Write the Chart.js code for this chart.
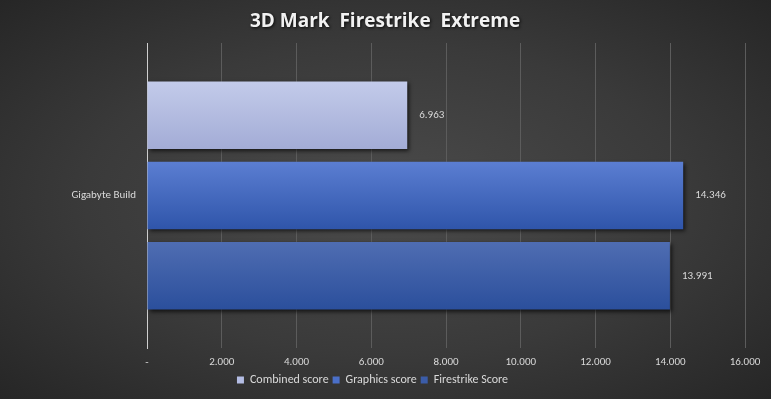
<!DOCTYPE html>
<html>
<head>
<meta charset="utf-8">
<script src="https://cdn.jsdelivr.net/npm/chart.js@4"></script>
<style>
  html, body { margin: 0; padding: 0; }
  #wrap {
    width: 771px; height: 399px;
    background: radial-gradient(ellipse at 50% 50%, #4b4b4b 0%, #3a3a3a 55%, #262626 100%);
  }
</style>
</head>
<body>
<div id="wrap"><canvas id="chart" width="771" height="399"></canvas></div>
<script>
const title = '3D Mark  Firestrike  Extreme';
const categories = ['Gigabyte Build'];
const seriesNames = ['Combined score', 'Graphics score', 'Firestrike Score'];
const combinedScore = [6963];
const graphicsScore = [14346];
const firestrikeScore = [13991];
const xTicks = [0, 2000, 4000, 6000, 8000, 10000, 12000, 14000, 16000];

const FONT = "'Carlito', 'Liberation Sans Narrow', 'Liberation Sans', sans-serif";

// top / bottom colours of each bar's gradient
const barColors = [
  ['#c3cbea', '#a3acd6'],
  ['#5b7ed2', '#2f55aa'],
  ['#4f6db2', '#2b4f9c']
];

const fmt = (v) => (v === 0 ? '-' : String(v).replace(/\B(?=(\d{3})+(?!\d))/g, '.'));

const barStyle = {
  id: 'barStyle',
  beforeDatasetDraw(chart, args) {
    const ctx = chart.ctx;
    const meta = args.meta;
    meta.data.forEach((el) => {
      const top = el.y - el.height / 2;
      const g = ctx.createLinearGradient(0, top, 0, top + el.height);
      g.addColorStop(0, barColors[args.index][0]);
      g.addColorStop(1, barColors[args.index][1]);
      el.options = Object.assign({}, el.options, { backgroundColor: g });
    });
    ctx.save();
    ctx.shadowColor = 'rgba(0,0,0,0.65)';
    ctx.shadowBlur = 4;
    ctx.shadowOffsetX = 2;
    ctx.shadowOffsetY = 2;
  },
  afterDatasetDraw(chart) {
    chart.ctx.restore();
  }
};

const valueLabels = {
  id: 'valueLabels',
  afterDatasetsDraw(chart) {
    const ctx = chart.ctx;
    ctx.save();
    ctx.font = '11px ' + FONT;
    ctx.fillStyle = '#d9d9d9';
    ctx.textBaseline = 'middle';
    chart.data.datasets.forEach((ds, i) => {
      chart.getDatasetMeta(i).data.forEach((el, j) => {
        ctx.fillText(fmt(ds.data[j]), el.x + 12, el.y);
      });
    });
    ctx.restore();
  }
};

const titleText = {
  id: 'titleText',
  afterDraw(chart) {
    const ctx = chart.ctx;
    ctx.save();
    ctx.font = "bold 19px 'Open Sans', 'DejaVu Sans', sans-serif";
    ctx.fillStyle = '#f2f2f2';
    ctx.textAlign = 'center';
    ctx.textBaseline = 'middle';
    ctx.shadowColor = 'rgba(0,0,0,0.8)';
    ctx.shadowBlur = 3;
    ctx.shadowOffsetX = 1;
    ctx.shadowOffsetY = 1;
    ctx.fillText(title, 385, 22);
    ctx.restore();
  }
};

new Chart(document.getElementById('chart'), {
  type: 'bar',
  data: {
    labels: categories,
    datasets: [
      { label: seriesNames[0], data: combinedScore, backgroundColor: '#b4bde4' },
      { label: seriesNames[1], data: graphicsScore, backgroundColor: '#4a6fc8' },
      { label: seriesNames[2], data: firestrikeScore, backgroundColor: '#3b5ca8' }
    ]
  },
  options: {
    indexAxis: 'y',
    responsive: false,
    animation: false,
    categoryPercentage: 0.79,
    barPercentage: 0.84,
    layout: { padding: { top: 43, right: 26, bottom: 3, left: 0 } },
    plugins: {
      legend: {
        position: 'bottom',
        labels: {
          color: '#d9d9d9',
          font: { family: FONT, size: 12 },
          boxWidth: 7,
          boxHeight: 7,
          padding: 4
        }
      },
      tooltip: { enabled: false }
    },
    scales: {
      x: {
        min: 0,
        max: 16000,
        afterBuildTicks(axis) {
          axis.ticks = xTicks.map((v) => ({ value: v }));
        },
        afterFit(axis) { axis.height = 22; },
        ticks: {
          color: '#d9d9d9',
          font: { family: FONT, size: 11 },
          padding: 8,
          maxRotation: 0,
          callback: (v) => fmt(v)
        },
        grid: { color: '#5c5c5c', tickLength: 0 },
        border: { display: false }
      },
      y: {
        afterFit(axis) { axis.width = 147; },
        ticks: {
          color: '#d9d9d9',
          font: { family: FONT, size: 11 },
          padding: 3
        },
        grid: { display: false },
        border: { color: '#cfcfcf' }
      }
    }
  },
  plugins: [barStyle, valueLabels, titleText]
});
</script>
</body>
</html>
